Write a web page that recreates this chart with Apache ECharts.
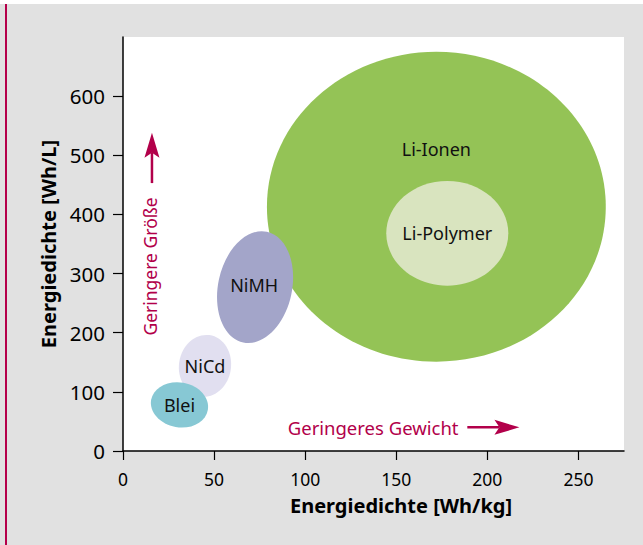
<!DOCTYPE html>
<html>
<head>
<meta charset="utf-8">
<script src="https://cdn.jsdelivr.net/npm/echarts@6/dist/echarts.min.js"></script>
<style>
  html, body { margin: 0; padding: 0; background: #fff; }
  #frame { position: relative; width: 643px; height: 545px; background: #e1e1e1; border-top: 4px solid #fff; box-sizing: border-box; }
  #frame .rule { position: absolute; left: 5px; top: 0; bottom: 0; width: 1.5px; background: #b5004a; }
  #chart { position: absolute; left: 0; top: -4px; width: 643px; height: 545px; }
</style>
</head>
<body>
<div id="frame"><div class="rule"></div><div id="chart"></div></div>
<script>
// Akkutypen: Mittelpunkt und halbe Ausdehnung der Ellipsen
const batteries = ['Li-Ionen', 'Li-Polymer', 'NiMH', 'NiCd', 'Blei']
const whPerKg = [172, 178, 72.5, 45, 31]
const whPerL = [413, 368, 277, 144, 78]
const halfKg = [93, 33.5, 20.3, 14.3, 15.8]
const halfL = [262, 88.5, 95.8, 52.5, 38]
const tiltDeg = [0, 0, -12, -8, -10]
const labelKg = [172, 178, 72, 45, 31]
const labelL = [510, 368, 280, 144, 78]
const colors = ['#94c356', '#d9e4bf', '#a3a5c9', '#e1dff0', '#87c8d4']

const xTicks = [0, 50, 100, 150, 200, 250]
const yTicks = [0, 100, 200, 300, 400, 500, 600]

// Hinweise mit Pfeil (in Achseneinheiten)
const hints = ['Geringere Größe', 'Geringeres Gewicht']
const hintKg = [14.8, 137.3]
const hintL = [312, 40]
const hintRotate = [90, 0]
const arrowFrom = [[15.9, 453], [189, 40]]
const arrowTo = [[15.9, 538], [217.6, 40]]

const crimson = '#b2004a'
const font = '"Noto Sans", "Open Sans", sans-serif'

let myChart = echarts.init(document.getElementById('chart'), null, { renderer: 'svg' })

let option = {
  animation: false,
  grid: {
    left: 123,
    right: 19,
    top: 37,
    bottom: 94,
    show: true,
    backgroundColor: '#fff',
    borderWidth: 0
  },
  xAxis: {
    type: 'value',
    min: 0,
    max: 275,
    name: 'Energiedichte [Wh/kg]',
    nameLocation: 'middle',
    nameGap: 44,
    nameTextStyle: { color: '#000', fontSize: 20, fontWeight: 'bold', fontFamily: font, padding: [0, 0, 0, 55] },
    axisLine: { lineStyle: { color: '#000', width: 1.5 } },
    axisTick: { length: 9, lineStyle: { color: '#000', width: 1.2 }, customValues: xTicks },
    axisLabel: { color: '#000', fontSize: 17.5, fontFamily: font, margin: 19, customValues: xTicks },
    splitLine: { show: false }
  },
  yAxis: {
    type: 'value',
    min: 0,
    max: 700,
    name: 'Energiedichte [Wh/L]',
    nameLocation: 'middle',
    nameGap: 63,
    nameTextStyle: { color: '#000', fontSize: 20, fontWeight: 'bold', fontFamily: font },
    axisLine: { lineStyle: { color: '#000', width: 1.5 } },
    axisTick: { length: 10, lineStyle: { color: '#000', width: 1.2 }, customValues: yTicks },
    axisLabel: { color: '#000', fontSize: 20.5, fontFamily: font, margin: 18, customValues: yTicks },
    splitLine: { show: false }
  },
  series: [
    {
      type: 'custom',
      name: 'Akkus',
      data: batteries.map((name, i) => [whPerKg[i], whPerL[i], halfKg[i], halfL[i], tiltDeg[i]]),
      renderItem: (params, api) => {
        const c = api.coord([api.value(0), api.value(1)])
        const s = api.size([api.value(2), api.value(3)])
        return {
          type: 'ellipse',
          x: c[0],
          y: c[1],
          rotation: api.value(4) * Math.PI / 180,
          shape: { cx: 0, cy: 0, rx: s[0], ry: s[1] },
          style: { fill: colors[params.dataIndex] }
        }
      }
    },
    {
      type: 'custom',
      name: 'Beschriftung',
      z: 3,
      data: batteries.map((name, i) => [labelKg[i], labelL[i]]),
      renderItem: (params, api) => {
        const c = api.coord([api.value(0), api.value(1)])
        return {
          type: 'text',
          x: c[0],
          y: c[1],
          style: {
            text: batteries[params.dataIndex],
            fill: '#111',
            font: '18px ' + font,
            align: 'center',
            verticalAlign: 'middle'
          }
        }
      }
    },
    {
      type: 'custom',
      name: 'Hinweise',
      z: 3,
      data: hints.map((h, i) => [hintKg[i], hintL[i], arrowFrom[i][0], arrowFrom[i][1], arrowTo[i][0], arrowTo[i][1]]),
      renderItem: (params, api) => {
        const i = params.dataIndex
        const c = api.coord([api.value(0), api.value(1)])
        const p0 = api.coord([api.value(2), api.value(3)])
        const p1 = api.coord([api.value(4), api.value(5)])
        const dx = p1[0] - p0[0]
        const dy = p1[1] - p0[1]
        const len = Math.sqrt(dx * dx + dy * dy)
        const ux = dx / len
        const uy = dy / len
        const nx = -uy
        const ny = ux
        const headLen = 25
        const hw = 7.5
        const bx = p1[0] - ux * headLen
        const by = p1[1] - uy * headLen
        const notch = [p1[0] - ux * (headLen - 5), p1[1] - uy * (headLen - 5)]
        return {
          type: 'group',
          children: [
            {
              type: 'text',
              x: c[0],
              y: c[1],
              rotation: hintRotate[i] * Math.PI / 180,
              style: {
                text: hints[i],
                fill: crimson,
                font: (i === 0 ? '17.5px ' : '18.5px ') + font,
                align: 'center',
                verticalAlign: 'middle'
              }
            },
            {
              type: 'line',
              shape: { x1: p0[0], y1: p0[1], x2: notch[0], y2: notch[1] },
              style: { stroke: crimson, lineWidth: 2.5 }
            },
            {
              type: 'polygon',
              shape: {
                points: [
                  [p1[0], p1[1]],
                  [bx + nx * hw, by + ny * hw],
                  notch,
                  [bx - nx * hw, by - ny * hw]
                ]
              },
              style: { fill: crimson }
            }
          ]
        }
      }
    }
  ]
}

myChart.setOption(option)
</script>
</body>
</html>
